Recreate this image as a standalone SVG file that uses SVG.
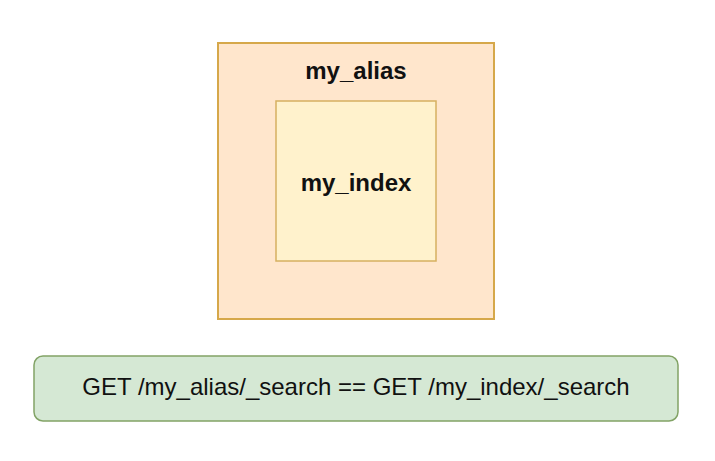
<svg xmlns="http://www.w3.org/2000/svg" width="715" height="461" viewBox="0 0 715 461">
<style>
.lbl{font-family:"Liberation Sans",Arial,sans-serif;font-size:24px;fill:#111;text-anchor:middle}
.b{font-weight:bold}
</style>
<rect width="715" height="461" fill="#ffffff"/>
<g id="my_alias">
<rect x="218" y="43" width="276" height="276" fill="#ffe6cc" stroke="#d6a84a" stroke-width="2"/>
<text class="lbl b" x="356" y="79">my_alias</text>
</g>
<g id="my_index">
<rect x="276" y="101" width="160" height="160" fill="#fff2cc" stroke="#d6b060" stroke-width="1.5"/>
<text class="lbl b" x="356" y="191">my_index</text>
</g>
<g id="query">
<rect x="34" y="356" width="644" height="65" rx="9" fill="#d5e8d4" stroke="#82a366" stroke-width="1.5"/>
<text class="lbl" x="356" y="395">GET /my_alias/_search == GET /my_index/_search</text>
</g>
<g id="connectors"/>
</svg>
